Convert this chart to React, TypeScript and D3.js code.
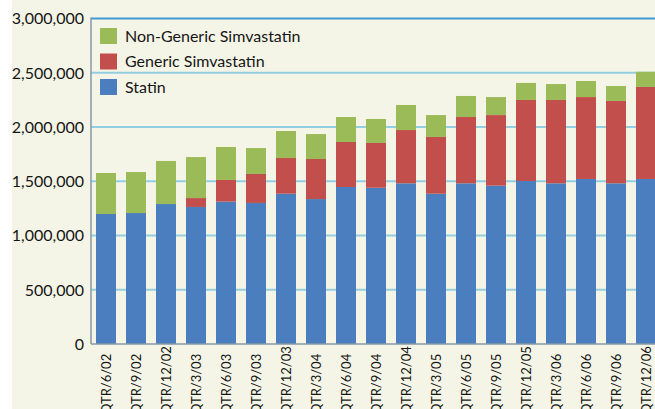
import React, { useRef, useEffect } from 'react';
import * as d3 from 'd3';

const quarters = [
  'QTR/6/02', 'QTR/9/02', 'QTR/12/02', 'QTR/3/03', 'QTR/6/03', 'QTR/9/03', 'QTR/12/03',
  'QTR/3/04', 'QTR/6/04', 'QTR/9/04', 'QTR/12/04', 'QTR/3/05', 'QTR/6/05', 'QTR/9/05',
  'QTR/12/05', 'QTR/3/06', 'QTR/6/06', 'QTR/9/06', 'QTR/12/06',
];
const statin = [
  1198000, 1207000, 1290000, 1263000, 1312000, 1300000, 1385000, 1336000, 1447000, 1440000,
  1481000, 1385000, 1481000, 1459000, 1502000, 1481000, 1521000, 1481000, 1521000,
];
const genericSimva = [
  0, 0, 0, 82000, 200000, 267000, 329000, 369000, 415000, 413000,
  491000, 523000, 611000, 651000, 747000, 768000, 755000, 759000, 848000,
];
const nonGenericSimva = [
  378000, 378000, 397000, 378000, 304000, 239000, 249000, 230000, 230000, 221000,
  231000, 202000, 194000, 166000, 157000, 147000, 148000, 138000, 140000,
];
const yTicks = [0, 500000, 1000000, 1500000, 2000000, 2500000, 3000000];

const seriesKeys = ['statin', 'generic', 'nongeneric'];
const seriesColors = { statin: '#4a7ebe', generic: '#c24f4c', nongeneric: '#9bbb59' };
const legendItems = [
  { key: 'nongeneric', label: 'Non-Generic Simvastatin' },
  { key: 'generic', label: 'Generic Simvastatin' },
  { key: 'statin', label: 'Statin' },
];

export default function App() {
  const ref = useRef<SVGSVGElement>(null);

  useEffect(() => {
    if (!ref.current) return;
    const width = 655;
    const height = 409;
    const svg = d3.select(ref.current);
    svg.selectAll('*').remove();

    const font = 'Lato, "Open Sans", sans-serif';

    svg.append('rect').attr('width', width).attr('height', height).attr('fill', '#ffffff');
    svg.append('rect').attr('x', 12).attr('width', width - 12).attr('height', height).attr('fill', '#f5f5e7');

    const plotLeft = 91;
    const x = d3.scaleBand().domain(quarters).range([plotLeft, plotLeft + 570]).paddingInner(1 / 3).paddingOuter(1 / 6);
    const y = d3.scaleLinear().domain([0, 3000000]).range([344, 18.5]);

    // gridlines
    svg.append('g').selectAll('line')
      .data(yTicks.filter(t => t > 0 && t < 3000000))
      .enter().append('line')
      .attr('x1', plotLeft).attr('x2', width)
      .attr('y1', d => y(d)).attr('y2', d => y(d))
      .attr('stroke', '#93cde2').attr('stroke-width', 2);

    svg.append('line')
      .attr('x1', plotLeft).attr('x2', width)
      .attr('y1', y(3000000)).attr('y2', y(3000000))
      .attr('stroke', '#3e9ad6').attr('stroke-width', 2);

    // stacked bars
    const rows = quarters.map((q, i) => ({
      q, statin: statin[i], generic: genericSimva[i], nongeneric: nonGenericSimva[i],
    }));
    const stacked = d3.stack<any>().keys(seriesKeys)(rows);

    svg.append('g').selectAll('g')
      .data(stacked)
      .enter().append('g')
      .attr('fill', d => seriesColors[d.key])
      .selectAll('rect')
      .data(d => d)
      .enter().append('rect')
      .attr('x', d => x(d.data.q)!)
      .attr('width', x.bandwidth())
      .attr('y', d => y(d[1]))
      .attr('height', d => Math.max(0, y(d[0]) - y(d[1])));

    // axes lines
    svg.append('line')
      .attr('x1', plotLeft).attr('x2', plotLeft)
      .attr('y1', y(3000000) - 1).attr('y2', y(0))
      .attr('stroke', '#8797a6').attr('stroke-width', 1.5);
    svg.append('line')
      .attr('x1', plotLeft).attr('x2', width)
      .attr('y1', y(0)).attr('y2', y(0))
      .attr('stroke', '#8797a6').attr('stroke-width', 1.5);

    // y tick labels
    svg.append('g').selectAll('text')
      .data(yTicks)
      .enter().append('text')
      .attr('x', 84)
      .attr('y', d => y(d))
      .attr('dy', '0.36em')
      .attr('text-anchor', 'end')
      .attr('font-family', font)
      .attr('font-size', 16)
      .attr('fill', '#161616')
      .text(d => d3.format(',')(d));

    // x labels (run off the bottom edge, as in the source)
    svg.append('g').selectAll('text')
      .data(quarters)
      .enter().append('text')
      .attr('transform', d => `translate(${x(d)! + x.bandwidth() / 2 + 5}, 414) rotate(-90)`)
      .attr('text-anchor', 'start')
      .attr('font-family', font)
      .attr('font-size', 13)
      .attr('fill', '#161616')
      .text(d => d);

    // legend
    const legend = svg.append('g').attr('transform', 'translate(100, 28)');
    legendItems.forEach((item, i) => {
      legend.append('rect')
        .attr('x', 0).attr('y', i * 25.5)
        .attr('width', 17).attr('height', 16)
        .attr('fill', seriesColors[item.key]);
      legend.append('text')
        .attr('x', 25).attr('y', i * 25.5 + 8)
        .attr('dy', '0.36em')
        .attr('font-family', font)
        .attr('font-size', 16)
        .attr('fill', '#161616')
        .text(item.label);
    });
  }, []);

  return (
    <svg ref={ref} width={655} height={409}
      style={{ position: 'absolute', left: 0, top: 0, display: 'block' }} />
  );
}
